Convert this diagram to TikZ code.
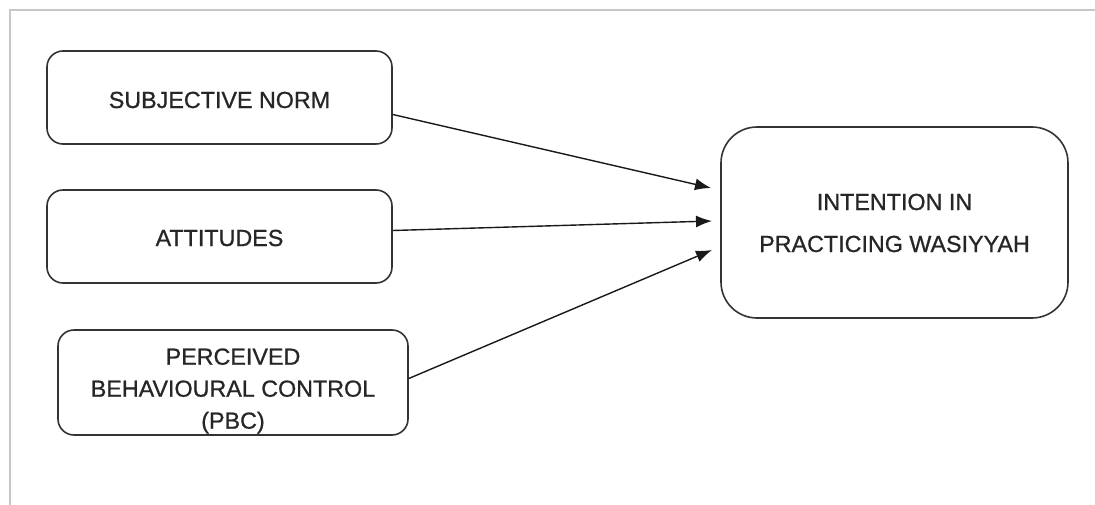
\documentclass[tikz,border=0pt]{standalone}
\usepackage{fontspec}
\setmainfont{Liberation Sans}
\newfontfamily\diagfont[FakeBold=0.8]{Liberation Sans}
\usetikzlibrary{arrows.meta}
\begin{document}
\begin{tikzpicture}[x=1pt,y=-1pt,
  box/.style={draw=black!80, line width=1.6pt, rounded corners=16pt, align=center,
    font=\diagfont\fontsize{23.3}{33}\selectfont, text=black!85, inner sep=0pt},
  lbl/.style={align=center, font=\diagfont\fontsize{23.3}{32}\selectfont, text=black!85, inner sep=0pt},
  conn/.style={draw=black!90, line width=1.4pt, -{Latex[length=16pt,width=12pt]}},
  frameline/.style={draw=black!22, line width=2.5pt}]
\useasboundingbox (0,0) rectangle (1095,505);
\fill[white] (0,0) rectangle (1095,505);
\coordinate (ftl) at (10,10);
\coordinate (ftr) at (1095,10);
\coordinate (fbl) at (10,505);
\draw[frameline] (ftr) -- (ftl) -- (fbl);
\node[box, minimum width=345pt, minimum height=93pt] (sn) at (219.5,97.5) {};
\node[lbl] (sntext) at (219.5,100) {SUBJECTIVE NORM};
\node[box, minimum width=345pt, minimum height=93pt] (att) at (219.5,236.5) {};
\node[lbl] (atttext) at (219.5,238) {ATTITUDES};
\node[box, minimum width=350pt, minimum height=105pt] (pbc) at (233,382.5) {};
\node[lbl] (pbctext) at (233,391) {PERCEIVED\\BEHAVIOURAL CONTROL\\(PBC)};
\node[box, rounded corners=36pt, minimum width=347pt, minimum height=191pt] (int) at (894.5,222.5) {};
\node[lbl, font=\diagfont\fontsize{23.3}{42}\selectfont] (inttext) at (894.5,223) {INTENTION IN\\PRACTICING WASIYYAH};
\coordinate (e1) at (711,188);
\coordinate (e2) at (712,221);
\coordinate (e3) at (712,250);
\draw[conn] ([yshift=-17pt]sn.east) -- (e1);
\draw[conn] ([yshift=6pt]att.east) -- (e2);
\draw[conn] ([yshift=4pt]pbc.east) -- (e3);
\end{tikzpicture}
\end{document}
